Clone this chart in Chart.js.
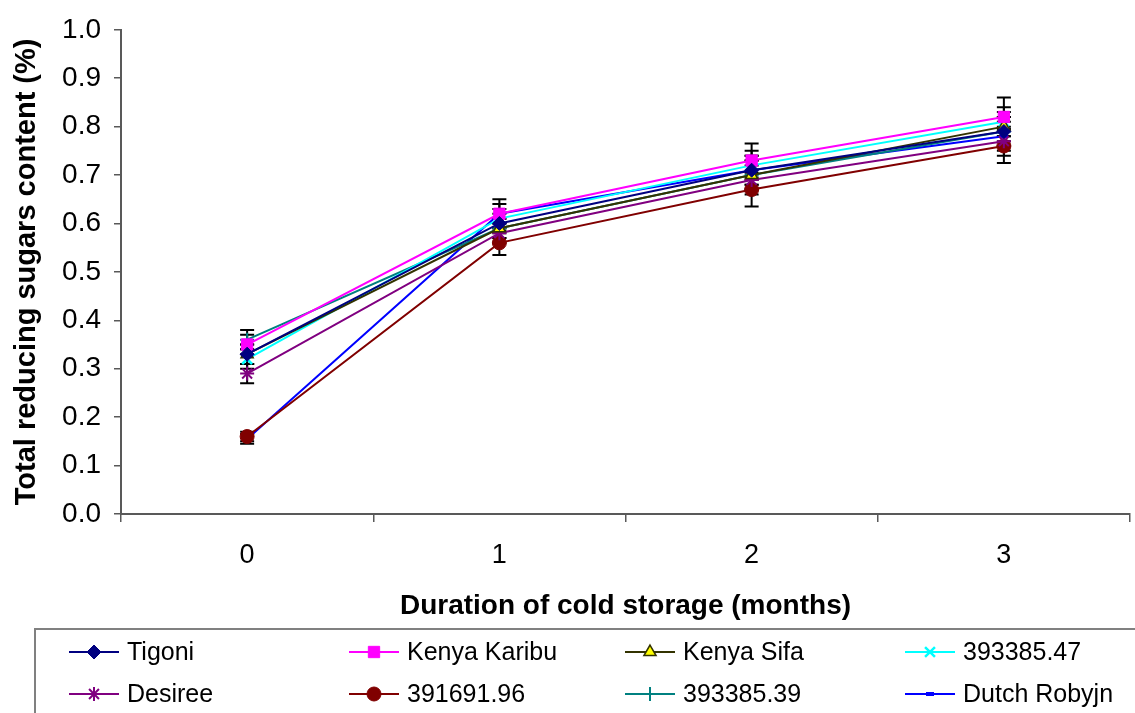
<!DOCTYPE html>
<html>
<head>
<meta charset="utf-8">
<script src="https://cdn.jsdelivr.net/npm/chart.js@4.4.1/dist/chart.umd.min.js"></script>
<style>
  html, body { margin: 0; padding: 0; background: #ffffff; }
  canvas { display: block; }
</style>
</head>
<body>
<canvas id="chart" width="1135" height="713"></canvas>
<script>
// Months of cold storage
const months = ['0', '1', '2', '3'];

// Total reducing sugars (%) per clone
const tigoni      = [0.33, 0.60, 0.71, 0.79];
const kenyaKaribu = [0.35, 0.62, 0.73, 0.82];
const kenyaSifa   = [0.33, 0.59, 0.70, 0.80];
const clone47     = [0.32, 0.61, 0.72, 0.81];
const desiree     = [0.29, 0.58, 0.69, 0.77];
const clone96     = [0.16, 0.56, 0.67, 0.76];
const clone39     = [0.36, 0.59, 0.70, 0.79];
const dutchRobyjn = [0.155, 0.62, 0.71, 0.78];

// Standard errors
const tigoniErr      = [0.02, 0.02, 0.03, 0.03];
const kenyaKaribuErr = [0.02, 0.03, 0.035, 0.04];
const kenyaSifaErr   = [0.02, 0.02, 0.03, 0.03];
const clone47Err     = [0.02, 0.02, 0.03, 0.03];
const desireeErr     = [0.02, 0.02, 0.03, 0.03];
const clone96Err     = [0.01, 0.025, 0.035, 0.035];
const clone39Err     = [0.02, 0.02, 0.03, 0.03];
const dutchRobyjnErr = [0.01, 0.02, 0.03, 0.03];

const seriesNames = ['Tigoni', 'Kenya Karibu', 'Kenya Sifa', '393385.47',
                     'Desiree', '391691.96', '393385.39', 'Dutch Robyjn'];

const FONT = "'Liberation Sans', Arial, sans-serif";

function series(label, data, err, color, style, extra) {
  return Object.assign({
    label: label,
    data: data,
    errors: err,
    borderColor: color,
    backgroundColor: color,
    borderWidth: 2,
    tension: 0,
    fill: false,
    pointStyle: style,
    pointRadius: 7,
    pointHoverRadius: 7,
    pointBackgroundColor: color,
    pointBorderColor: color,
    pointBorderWidth: 1
  }, extra || {});
}

const datasets = [
  series(seriesNames[0], tigoni, tigoniErr, '#000080', 'rectRot'),
  series(seriesNames[1], kenyaKaribu, kenyaKaribuErr, '#FF00FF', 'rect', { pointRadius: 8 }),
  series(seriesNames[2], kenyaSifa, kenyaSifaErr, '#333300', 'triangle',
         { pointBackgroundColor: '#FFFF00', pointBorderColor: '#333300', pointBorderWidth: 1.5 }),
  series(seriesNames[3], clone47, clone47Err, '#00FFFF', 'crossRot', { pointBorderWidth: 2.5 }),
  series(seriesNames[4], desiree, desireeErr, '#800080', 'star', { pointBorderWidth: 2 }),
  series(seriesNames[5], clone96, clone96Err, '#800000', 'circle'),
  series(seriesNames[6], clone39, clone39Err, '#008080', 'cross', { pointBorderWidth: 2 }),
  series(seriesNames[7], dutchRobyjn, dutchRobyjnErr, '#0000FF', 'line',
         { pointRadius: 4, pointBorderWidth: 4 })
];

// Black error bars with caps, drawn under the lines
const errorBars = {
  id: 'errorBars',
  beforeDatasetsDraw(chart) {
    const ctx = chart.ctx;
    const xs = chart.scales.x, ys = chart.scales.y;
    ctx.save();
    ctx.strokeStyle = '#000000';
    ctx.lineWidth = 2;
    chart.data.datasets.forEach(ds => {
      ds.data.forEach((v, i) => {
        const e = ds.errors[i];
        const x = xs.getPixelForValue(i);
        const yTop = ys.getPixelForValue(v + e);
        const yBot = ys.getPixelForValue(v - e);
        ctx.beginPath();
        ctx.moveTo(x, yTop); ctx.lineTo(x, yBot);
        ctx.moveTo(x - 7, yTop); ctx.lineTo(x + 7, yTop);
        ctx.moveTo(x - 7, yBot); ctx.lineTo(x + 7, yBot);
        ctx.stroke();
      });
    });
    ctx.restore();
  }
};

// Boxed legend in four columns below the axis
const boxedLegend = {
  id: 'boxedLegend',
  afterDraw(chart) {
    const ctx = chart.ctx;
    ctx.save();
    ctx.strokeStyle = '#808080';
    ctx.lineWidth = 2;
    ctx.strokeRect(35, 629, 1120, 120);

    const colX = [69, 349, 625, 905];
    const rowY = [652, 694];
    ctx.font = '25px ' + FONT;
    ctx.textBaseline = 'middle';
    ctx.textAlign = 'left';
    chart.data.datasets.forEach((ds, k) => {
      const x0 = colX[k % 4];
      const y = rowY[Math.floor(k / 4)];
      ctx.strokeStyle = ds.borderColor;
      ctx.lineWidth = 2;
      ctx.beginPath();
      ctx.moveTo(x0, y); ctx.lineTo(x0 + 50, y);
      ctx.stroke();
      ctx.fillStyle = ds.pointBackgroundColor;
      ctx.strokeStyle = ds.pointBorderColor;
      ctx.lineWidth = ds.pointBorderWidth;
      Chart.helpers.drawPoint(ctx, {
        pointStyle: ds.pointStyle,
        radius: ds.pointRadius,
        rotation: 0,
        borderWidth: ds.pointBorderWidth
      }, x0 + 25, y);
      ctx.fillStyle = '#000000';
      ctx.fillText(ds.label, x0 + 58, y + 1);
    });
    ctx.restore();
  }
};

new Chart(document.getElementById('chart'), {
  type: 'line',
  data: { labels: months, datasets: datasets },
  options: {
    responsive: false,
    animation: false,
    events: [],
    layout: { autoPadding: false, padding: { left: 0, top: 24, right: 5, bottom: 85 } },
    plugins: { legend: { display: false }, tooltip: { enabled: false } },
    scales: {
      x: {
        type: 'category',
        offset: true,
        afterFit(scale) {
          scale.height = 114;
          scale.paddingLeft = 0;
          scale.paddingRight = 0;
        },
        grid: { display: true, offset: true, drawOnChartArea: false, drawTicks: true,
                tickLength: 8, color: '#595959', lineWidth: 1.5 },
        border: { display: true, color: '#595959', width: 2 },
        ticks: { color: '#000000', padding: 17, font: { family: FONT, size: 27 } },
        title: { display: true, text: 'Duration of cold storage (months)', color: '#000000',
                 padding: { top: 0, bottom: 5 }, font: { family: FONT, size: 28, weight: 'bold' } }
      },
      y: {
        min: 0, max: 1,
        afterFit(scale) { scale.width = 121; },
        grid: { display: true, drawOnChartArea: false, drawTicks: true,
                tickLength: 7, color: '#595959', lineWidth: 1.5 },
        border: { display: true, color: '#595959', width: 2 },
        ticks: { stepSize: 0.1, color: '#000000', padding: 13,
                 font: { family: FONT, size: 28 },
                 callback: v => Number(v).toFixed(1) },
        title: { display: true, text: 'Total reducing sugars content (%)', color: '#000000',
                 padding: { top: 10, bottom: 0 }, font: { family: FONT, size: 29, weight: 'bold' } }
      }
    }
  },
  plugins: [errorBars, boxedLegend]
});
</script>
</body>
</html>
